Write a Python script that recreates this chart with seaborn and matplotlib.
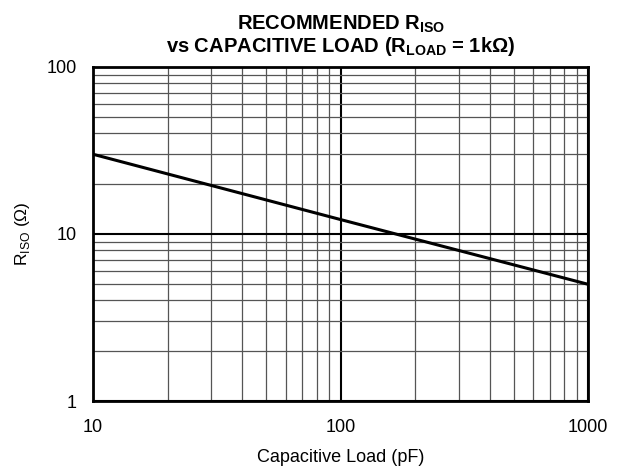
import numpy as np
import pandas as pd
import seaborn as sns
import matplotlib
matplotlib.use("Agg")
import matplotlib.pyplot as plt
from matplotlib.ticker import LogLocator, FixedLocator, NullFormatter

# data (straight line on log-log axes)
cap_load = [10, 100, 1000]
r_iso = [30, 12.2, 5]
x_ticks = [10, 100, 1000]
y_ticks = [1, 10, 100]

sns.set_style("white")
plt.rcParams['font.family'] = ['Liberation Sans', 'DejaVu Sans']
plt.rcParams['mathtext.fontset'] = 'custom'
plt.rcParams['mathtext.rm'] = 'Liberation Sans'
plt.rcParams['mathtext.bf'] = 'Liberation Sans:bold'
plt.rcParams['text.color'] = 'black'
plt.rcParams['axes.labelcolor'] = 'black'
plt.rcParams['xtick.color'] = 'black'
plt.rcParams['ytick.color'] = 'black'

df = pd.DataFrame({'cap': cap_load, 'riso': r_iso})

fig = plt.figure(figsize=(6.21, 4.68), dpi=100)
ax = fig.add_axes([0.150, 0.143, 0.797, 0.714])

ax.set_xscale('log')
ax.set_yscale('log')
ax.set_xlim(10, 1000)
ax.set_ylim(1, 100)

# grid
ax.xaxis.set_minor_locator(LogLocator(base=10, subs=np.arange(2, 10)))
ax.yaxis.set_minor_locator(LogLocator(base=10, subs=np.arange(2, 10)))
ax.xaxis.set_minor_formatter(NullFormatter())
ax.yaxis.set_minor_formatter(NullFormatter())
ax.grid(True, which='minor', color='#555555', linewidth=0.9)
ax.grid(True, which='major', color='black', linewidth=1.5)

sns.lineplot(data=df, x='cap', y='riso', color='black', linewidth=2.2, ax=ax)

ax.xaxis.set_major_locator(FixedLocator(x_ticks))
ax.yaxis.set_major_locator(FixedLocator(y_ticks))
ax.set_xticklabels([str(v) for v in x_ticks])
ax.set_yticklabels([str(v) for v in y_ticks])
ax.tick_params(which='both', length=0, labelsize=13)
ax.tick_params(axis='x', pad=13)
ax.tick_params(axis='y', pad=12)

for s in ax.spines.values():
    s.set_visible(True)
    s.set_linewidth(2)
    s.set_color('black')

ax.set_xlabel('Capacitive Load (pF)', fontsize=13, labelpad=9)
ax.set_ylabel(r'R$_{\rm ISO}$ ($\Omega$)', fontsize=12.5, labelpad=10)
ax.set_title('RECOMMENDED R$_{\\mathbf{ISO}}$\nvs CAPACITIVE LOAD (R$_{\\mathbf{LOAD}}$ = 1k$\\mathbf{\\Omega}$)',
             fontsize=14.5, fontweight='bold', pad=11, linespacing=0.95)

fig.savefig('out.png', dpi=100)
